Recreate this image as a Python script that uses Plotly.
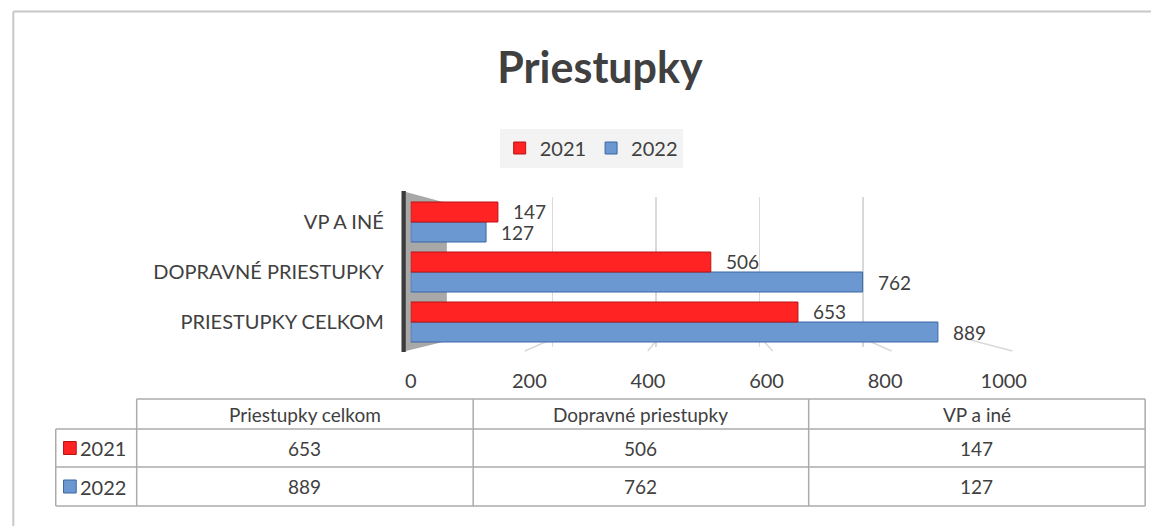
import plotly.graph_objects as go

# ---------------- data ----------------
categories = ["Priestupky celkom", "Dopravné priestupky", "VP a iné"]
years = ["2021", "2022"]
values_2021 = [653, 506, 147]
values_2022 = [889, 762, 127]
axis_ticks = [0, 200, 400, 600, 800, 1000]
title_text = "Priestupky"

# ---------------- styling ----------------
W, H = 1174, 526
FONT = "Lato"
TXT = "#404040"
RED, RED_EDGE = "#ff2323", "#b81414"
BLUE, BLUE_EDGE = "#6b98d0", "#3b67a8"
GRID = "#d9d9d9"
TABLE_LINE = "#ababab"


def px(x):
    return x / W


def py(y):
    return 1 - y / H


axis_labels = [c.upper() for c in categories]
series = {"2021": (values_2021, RED, RED_EDGE), "2022": (values_2022, BLUE, BLUE_EDGE)}

fig = go.Figure()
# empty trace carrying the back-plane grid axis (x / y)
fig.add_trace(go.Scatter(x=[], y=[], xaxis="x", yaxis="y", showlegend=False, hoverinfo="skip"))
# 2022 first so that it sits below 2021 inside each group
for rank, yr in [(2, "2022"), (1, "2021")]:
    vals, col, edge = series[yr]
    fig.add_trace(go.Bar(
        y=axis_labels, x=vals, orientation="h", name=yr,
        xaxis="x2", yaxis="y", legendrank=rank,
        marker=dict(color=col, line=dict(color=edge, width=1)),
        hoverinfo="x+name",
    ))

# data labels
annotations = []
for yr, shift in [("2021", 10.5), ("2022", -10.5)]:
    vals = series[yr][0]
    for cat, v in zip(axis_labels, vals):
        annotations.append(dict(
            x=v, y=cat, xref="x2", yref="y", text=str(v), showarrow=False,
            xanchor="left", yanchor="middle", xshift=13, yshift=shift,
            font=dict(family=FONT, size=19, color=TXT),
        ))

shapes = []
# outer chart border (left and top edges are inside the picture)
shapes.append(dict(type="line", xref="paper", yref="paper",
                   x0=px(7.5), x1=px(7.5), y0=0, y1=py(11.5),
                   line=dict(color="#c8c8c8", width=2), layer="below"))
shapes.append(dict(type="line", xref="paper", yref="paper",
                   x0=px(7.5), x1=1, y0=py(11.5), y1=py(11.5),
                   line=dict(color="#c8c8c8", width=2), layer="below"))
# side wall of the 3-D plot
shapes.append(dict(type="path", xref="paper", yref="paper",
                   path="M {},{} L {},{} L {},{} L {},{} Z".format(
                       px(410), py(192), px(452), py(203), px(452), py(341), px(410), py(351)),
                   fillcolor="#a8a8a8", line=dict(width=0), layer="below"))
shapes.append(dict(type="rect", xref="paper", yref="paper",
                   x0=px(405.5), x1=px(410), y0=py(352), y1=py(191),
                   fillcolor="#3c3c3c", line=dict(width=0), layer="below"))
# floor perspective lines
floor = [(560, 532), (668, 658), (775, 786), (880, 908), (985, 1032)]
for xb, xf in floor:
    shapes.append(dict(type="line", xref="paper", yref="paper",
                       x0=px(xb), y0=py(339), x1=px(xf), y1=py(351),
                       line=dict(color=GRID, width=1.5), layer="below"))

# ---------------- data table ----------------
col_x = [134, 479, 823, 1168]
row_y = [399, 429, 467, 506]
key_left = 51


def hline(y, x0, x1):
    shapes.append(dict(type="line", xref="paper", yref="paper", x0=px(x0), x1=px(x1),
                       y0=py(y), y1=py(y), line=dict(color=TABLE_LINE, width=1.5)))


def vline(x, y0, y1):
    shapes.append(dict(type="line", xref="paper", yref="paper", x0=px(x), x1=px(x),
                       y0=py(y0), y1=py(y1), line=dict(color=TABLE_LINE, width=1.5)))


hline(row_y[0], col_x[0], col_x[-1])
for y in row_y[1:]:
    hline(y, key_left, col_x[-1])
vline(key_left, row_y[1], row_y[-1])
for x in col_x:
    vline(x, row_y[0], row_y[-1])

table_font = dict(family=FONT, size=19, color=TXT)
for i, cat in enumerate(categories):
    cx = (col_x[i] + col_x[i + 1]) / 2
    annotations.append(dict(x=px(cx), y=py((row_y[0] + row_y[1]) / 2), xref="paper", yref="paper",
                            text=cat, showarrow=False, xanchor="center", yanchor="middle",
                            font=table_font))
    for r, yr in enumerate(years):
        vals = series[yr][0]
        annotations.append(dict(x=px(cx), y=py((row_y[r + 1] + row_y[r + 2]) / 2),
                                xref="paper", yref="paper", text=str(vals[i]), showarrow=False,
                                xanchor="center", yanchor="middle", font=table_font))

for r, yr in enumerate(years):
    col, edge = series[yr][1], series[yr][2]
    cy = (row_y[r + 1] + row_y[r + 2]) / 2
    shapes.append(dict(type="rect", xref="paper", yref="paper",
                       x0=px(59), x1=px(72), y0=py(cy + 6.5), y1=py(cy - 6.5),
                       fillcolor=col, line=dict(color=edge, width=1)))
    annotations.append(dict(x=px(74), y=py(cy), xref="paper", yref="paper", text=yr,
                            showarrow=False, xanchor="left", yanchor="middle",
                            font=dict(family=FONT, size=20, color=TXT)))

fig.update_layout(
    width=W, height=H,
    margin=dict(l=0, r=0, t=0, b=0),
    paper_bgcolor="white", plot_bgcolor="rgba(0,0,0,0)",
    barmode="group", bargap=0.2, bargroupgap=0,
    title=dict(text=title_text, x=px(600), xanchor="center", y=py(68), yanchor="middle",
               font=dict(family=FONT, size=43, color=TXT, weight="bold")),
    legend=dict(orientation="h", x=px(600), xanchor="center", y=py(148), yanchor="middle",
                bgcolor="#f3f3f3", font=dict(family=FONT, size=20, color=TXT),
                itemwidth=30, traceorder="normal"),
    xaxis=dict(domain=[px(454), px(985)], range=[0, 1000], anchor="y",
               tickvals=axis_ticks, showticklabels=False, showgrid=True,
               gridcolor=GRID, gridwidth=1.5, zeroline=False, showline=False, ticks=""),
    xaxis2=dict(domain=[px(415), px(1023)], range=[0, 1000], anchor="y",
                tickvals=axis_ticks, showgrid=False, zeroline=False, showline=False, ticks="",
                tickfont=dict(family=FONT, size=20, color=TXT), ticklabelstandoff=20),
    yaxis=dict(domain=[py(347), py(197)], anchor="x2", type="category",
               categoryorder="array", categoryarray=axis_labels, range=[-0.5, 2.5],
               showgrid=False, zeroline=False, showline=False, ticks="",
               tickfont=dict(family=FONT, size=20, color=TXT), ticklabelstandoff=26),
    shapes=shapes,
    annotations=annotations,
    showlegend=True,
)

fig.write_html(
    "out.html",
    config={"displayModeBar": False, "staticPlot": True},
    post_script=(
        "var gd=document.getElementById('{plot_id}');"
        "gd.style.overflow='hidden';gd.style.width='1174px';gd.style.height='526px';"
        "document.documentElement.style.overflow='hidden';"
        "document.body.style.margin='0px';document.body.style.overflow='hidden';"
    ),
)
